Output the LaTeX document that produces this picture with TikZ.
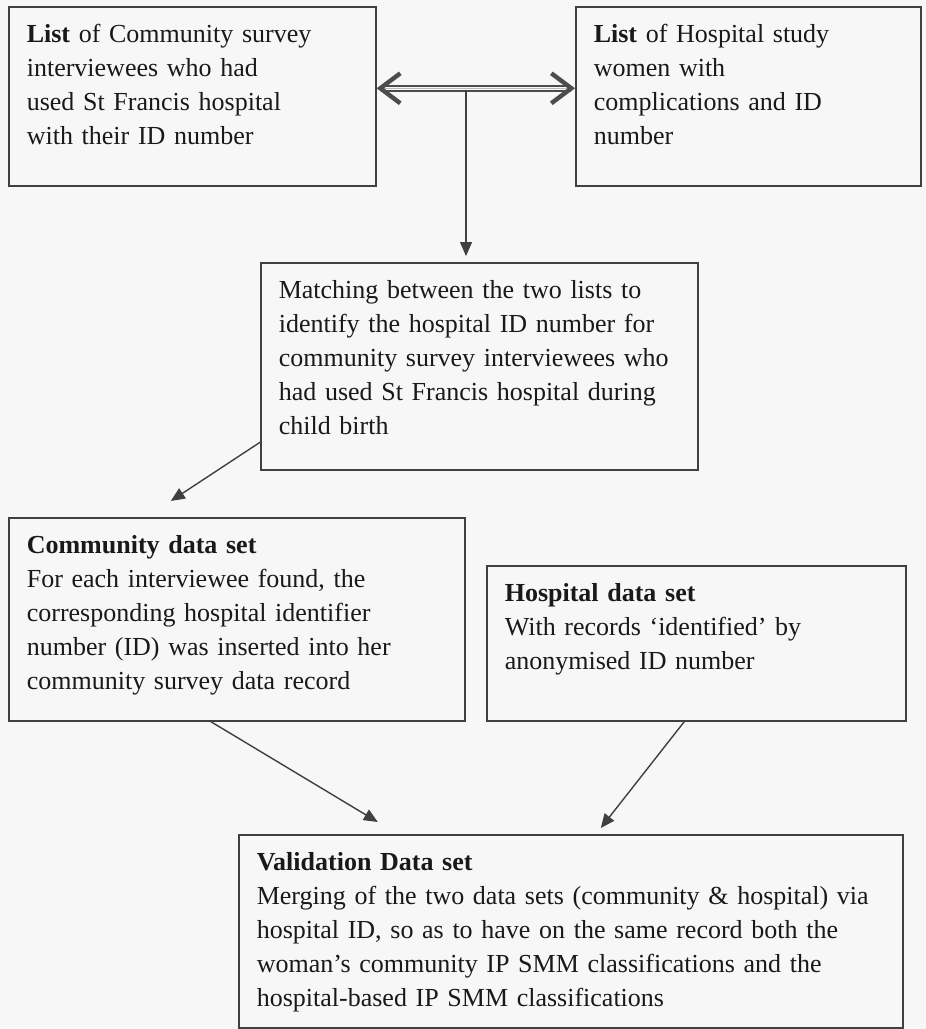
\documentclass[tikz,border=0pt]{standalone}
\usepackage{fontspec}
\setmainfont{Liberation Serif}
\usetikzlibrary{arrows.meta}

\tikzset{
    box/.style={draw=black!75, line width=0.8pt, anchor=north west, align=left,
        inner xsep=9pt, inner ysep=5pt, text height=13pt,
        font=\fontsize{13pt}{17pt}\selectfont, text=black!90},
    link/.style={draw=black!75, line width=0.7pt, -{Triangle[length=7pt,width=6pt]}},
    twoway/.style={draw=black!70, double=black!3, double distance=1.6pt, line width=0.8pt,
        shorten <=2pt, shorten >=2pt},
    barbs/.style={draw=black!70, line width=0.01pt,
        {Straight Barb[length=10pt,width=15pt,line width=2.2pt]}-{Straight Barb[length=10pt,width=15pt,line width=2.2pt]}}
}

\begin{document}
\begin{tikzpicture}[x=0.5pt, y=-0.5pt]% [ show background grid ]
    \useasboundingbox[fill=black!3] (0,0) rectangle (926,1029);

    \node[box, text width=165.5pt, text depth=66.5pt] (listcomm) at (8,6)
        {\textbf{List} of Community survey\\ interviewees who had\\ used St Francis hospital\\ with their ID number};
    \node[box, text width=154.5pt, text depth=66.5pt] (listhosp) at (575,6)
        {\textbf{List} of Hospital study\\ women with\\ complications and ID\\ number};
    \node[box, text width=200.5pt, text depth=80.5pt] (match) at (260,262)
        {Matching between the two lists to\\ identify the hospital ID number for\\ community survey interviewees who\\ had used St Francis hospital during\\ child birth};
    \node[box, text width=210pt, text depth=78.5pt] (commdata) at (8,517)
        {\textbf{Community data set}\\ For each interviewee found, the\\ corresponding hospital identifier\\ number (ID) was inserted into her\\ community survey data record};
    \node[box, text width=191.5pt, text depth=54.5pt] (hospdata) at (486,565)
        {\textbf{Hospital data set}\\ With records ‘identified’ by\\ anonymised ID number};
    \node[box, text width=314pt, text depth=73.5pt] (valid) at (238,834)
        {\textbf{Validation Data set}\\ Merging of the two data sets (community \& hospital) via\\ hospital ID, so as to have on the same record both the\\ woman’s community IP SMM classifications and the\\ hospital-based IP SMM classifications};

    % two-way link between the lists
    \draw[twoway] ([yshift=4pt]listcomm.east) -- ([yshift=4pt]listhosp.west);
    \draw[barbs] ([yshift=4pt]listcomm.east) -- ([yshift=4pt]listhosp.west);
    \coordinate (join) at (466,90);
    \draw[link] (join) -- ([yshift=3pt]join |- match.north);

    \draw[link] ([yshift=-38pt]match.west) -- ([xshift=-33pt,yshift=8pt]commdata.north);
    \draw[link] ([xshift=-13pt]commdata.south) -- ([xshift=-96.5pt,yshift=6pt]valid.north);
    \draw[link] ([xshift=-6pt]hospdata.south) -- ([xshift=15pt,yshift=3pt]valid.north);

\end{tikzpicture}
\end{document}
